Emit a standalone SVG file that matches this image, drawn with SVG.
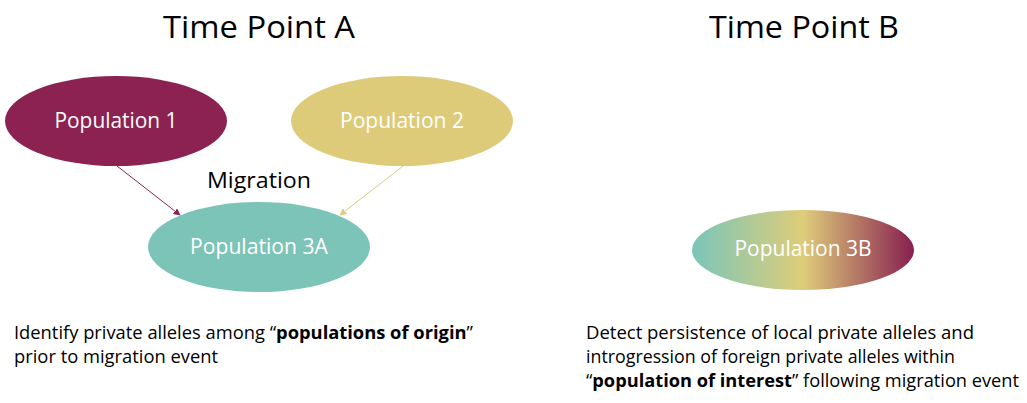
<svg xmlns="http://www.w3.org/2000/svg" width="1027" height="403" viewBox="0 0 1027 403">
<style>
text{font-family:"Open Sans","Noto Sans",sans-serif;}
.title{font-size:31px;fill:#000;text-anchor:middle;}
.node{font-size:21px;fill:#fff;text-anchor:middle;}
.lbl{font-size:21px;fill:#000;text-anchor:middle;}
.body{font-size:18.5px;fill:#000;}
.b{font-weight:bold;}
</style>
<defs>
<linearGradient id="g3b" x1="0" y1="0" x2="1" y2="0">
<stop offset="0" stop-color="#7BC5B9"/>
<stop offset="0.5" stop-color="#DECD7A"/>
<stop offset="1" stop-color="#881F50"/>
</linearGradient>
<marker id="am" viewBox="0 0 10 10" refX="9" refY="5" markerWidth="7" markerHeight="7" orient="auto" markerUnits="userSpaceOnUse"><path d="M0,0 L10,5 L0,10 z" fill="#8B2252"/></marker>
<marker id="ay" viewBox="0 0 10 10" refX="9" refY="5" markerWidth="7" markerHeight="7" orient="auto" markerUnits="userSpaceOnUse"><path d="M0,0 L10,5 L0,10 z" fill="#DDCB7A"/></marker>
</defs>
<rect width="1027" height="403" fill="#fff"/>
<text class="title" x="259" y="38" textLength="192" lengthAdjust="spacingAndGlyphs">Time Point A</text>
<text class="title" x="804" y="38" textLength="190" lengthAdjust="spacingAndGlyphs">Time Point B</text>
<g id="connectors">
<line x1="117" y1="166" x2="180" y2="215" stroke="#8B2252" stroke-width="1" marker-end="url(#am)"/>
<line x1="403" y1="166" x2="340" y2="215" stroke="#DDCB7A" stroke-width="1" marker-end="url(#ay)"/>
</g>
<g id="pop1">
<ellipse cx="116" cy="121" rx="111" ry="45" fill="#8B2252"/>
<text class="node" x="116" y="128" textLength="123" lengthAdjust="spacingAndGlyphs">Population 1</text>
</g>
<g id="pop2">
<ellipse cx="402" cy="121" rx="111" ry="45" fill="#DDCB7A"/>
<text class="node" x="402" y="128" textLength="124" lengthAdjust="spacingAndGlyphs">Population 2</text>
</g>
<g id="migration">
<text class="lbl" x="259" y="188" textLength="104" lengthAdjust="spacingAndGlyphs">Migration</text>
</g>
<g id="pop3a">
<ellipse cx="259" cy="247" rx="111" ry="45" fill="#7DC4B8"/>
<text class="node" x="259" y="254" textLength="138" lengthAdjust="spacingAndGlyphs">Population 3A</text>
</g>
<g id="pop3b">
<ellipse cx="803" cy="250" rx="111" ry="40" fill="url(#g3b)"/>
<text class="node" x="803" y="256" textLength="137" lengthAdjust="spacingAndGlyphs">Population 3B</text>
</g>
<g id="textA">
<text class="body" x="14" y="339" textLength="459" lengthAdjust="spacingAndGlyphs">Identify private alleles among “<tspan class="b">populations  of origin</tspan>”</text>
<text class="body" x="14" y="363" textLength="204" lengthAdjust="spacingAndGlyphs">prior to migration event</text>
</g>
<g id="textB">
<text class="body" x="586" y="339" textLength="388" lengthAdjust="spacingAndGlyphs">Detect persistence of local private alleles and</text>
<text class="body" x="586" y="363" textLength="369" lengthAdjust="spacingAndGlyphs">introgression of foreign private alleles within</text>
<text class="body" x="586" y="387" textLength="433" lengthAdjust="spacingAndGlyphs">“<tspan class="b">population  of interest</tspan>” following migration event</text>
</g>
</svg>
